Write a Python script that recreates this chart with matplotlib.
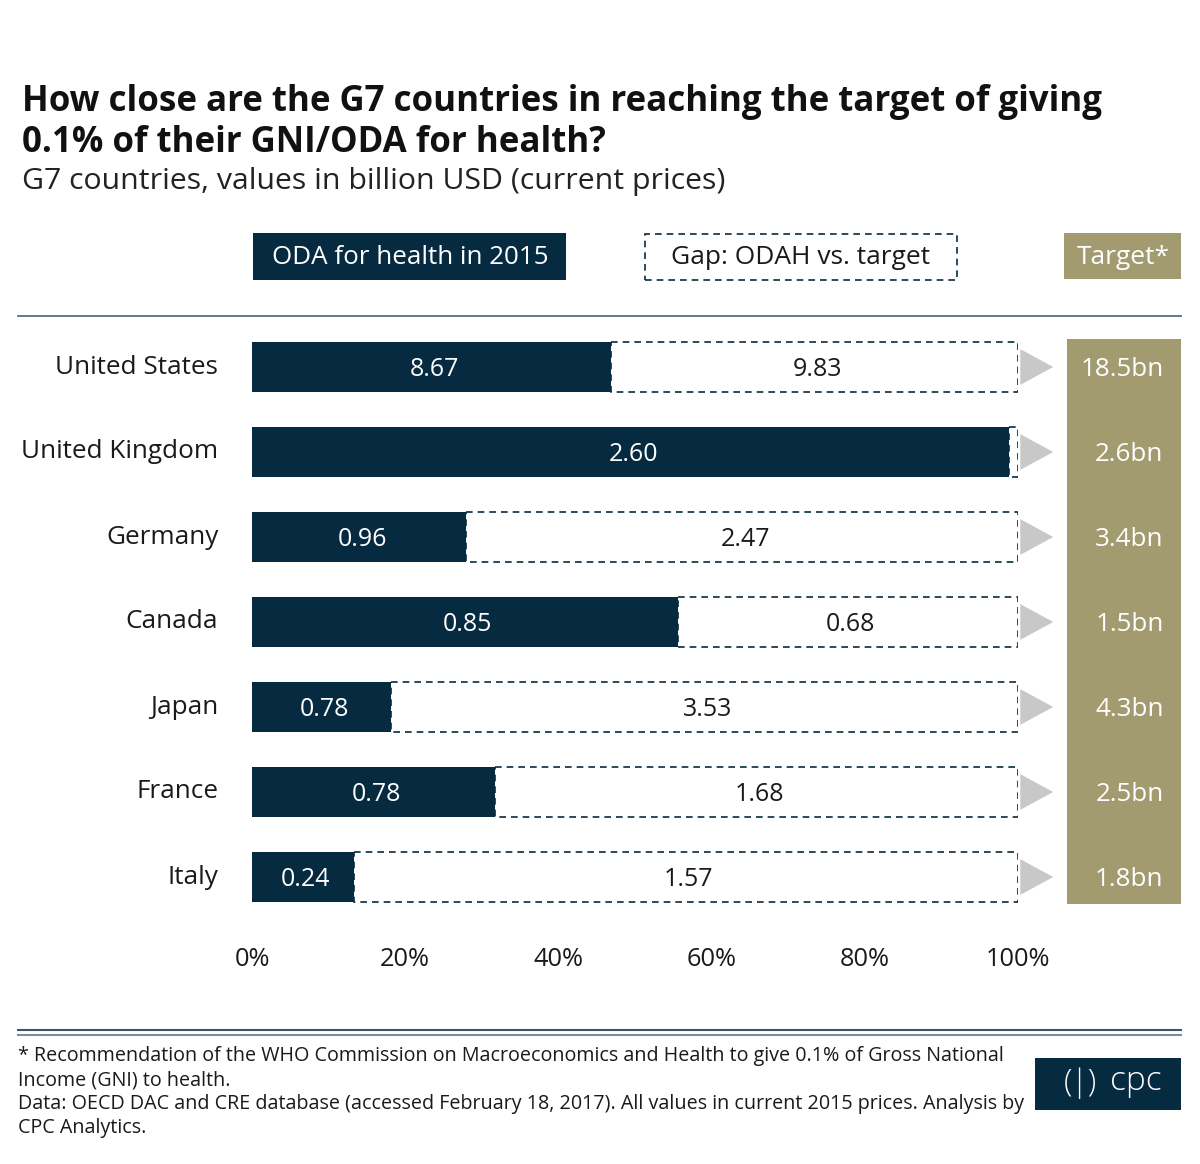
import matplotlib
matplotlib.use('Agg')
import matplotlib.pyplot as plt
from matplotlib.patches import Rectangle, Polygon

plt.rcParams['font.family'] = ['Open Sans', 'DejaVu Sans']

countries = ['United States', 'United Kingdom', 'Germany', 'Canada', 'Japan', 'France', 'Italy']
odah = [8.67, 2.60, 0.96, 0.85, 0.78, 0.78, 0.24]
gap = [9.83, 0.03, 2.47, 0.68, 3.53, 1.68, 1.57]
gap_labels = ['9.83', '', '2.47', '0.68', '3.53', '1.68', '1.57']
targets = ['18.5bn', '2.6bn', '3.4bn', '1.5bn', '4.3bn', '2.5bn', '1.8bn']
ticks = [0, 0.2, 0.4, 0.6, 0.8, 1.0]
tick_labels = ['0%', '20%', '40%', '60%', '80%', '100%']

NAVY = '#062b41'
OLIVE = '#a19b6f'
GREY = '#c8c8c8'
W, H = 1200, 1164

fig = plt.figure(figsize=(12, 11.64), dpi=100)

def fx(px):
    return px / W

def fy(py):
    return 1 - py / H

# main axes: x 252..1018 px, y 324.5..919.5 px
ax = fig.add_axes([fx(252), fy(919.5), fx(1018) - fx(252), (919.5 - 324.5) / H])
ax.set_xlim(0, 1)
ax.set_ylim(6.5, -0.5)
for s in ax.spines.values():
    s.set_visible(False)
ax.set_yticks([])
ax.set_xticks(ticks)
ax.set_xticklabels(tick_labels, fontsize=18.3, color='#1a1a1a')
ax.tick_params(axis='x', length=0, pad=20)

bh = 50 / 85
dy = 0.035  # small nudge so text sits on the bar centre
for i, c in enumerate(countries):
    total = odah[i] + gap[i]
    share = odah[i] / total
    ax.add_patch(Rectangle((0, i - bh / 2), share, bh, facecolor=NAVY, edgecolor='none'))
    ax.add_patch(Rectangle((share, i - bh / 2), 1 - share, bh, facecolor='none',
                           edgecolor=NAVY, linestyle=(0, (4, 3)), linewidth=1.2))
    ax.text(share / 2 + 0.004, i + dy, f'{odah[i]:.2f}', color='white', fontsize=18,
            ha='center', va='center')
    if gap_labels[i]:
        ax.text((share + 1) / 2 + 0.004, i + dy, gap_labels[i], color='#1a1a1a', fontsize=18,
                ha='center', va='center')
    ax.text(-0.044, i, c, ha='right', va='center', fontsize=18.8, color='#1a1a1a',
            clip_on=False)
    tri = Polygon([[1.003, i - 0.21], [1.003, i + 0.21], [1.046, i]], closed=True,
                  facecolor=GREY, edgecolor='none', clip_on=False)
    ax.add_patch(tri)
    ax.text(1.19, i + dy, targets[i], color='white', fontsize=18.7, ha='right',
            va='center', clip_on=False)

ax.add_patch(Rectangle((1.064, -0.33), 0.149, 6.65, facecolor=OLIVE, edgecolor='none',
                       clip_on=False, zorder=0))

# title block
fig.text(fx(22), fy(102), 'How close are the G7 countries in reaching the target of giving',
         fontsize=25.1, fontweight='bold', color='#111111', va='center')
fig.text(fx(22), fy(143), '0.1% of their GNI/ODA for health?',
         fontsize=25.1, fontweight='bold', color='#111111', va='center')
fig.text(fx(22), fy(182), 'G7 countries, values in billion USD (current prices)',
         fontsize=21.8, color='#222222', va='center')

# legend
fig.patches.append(Rectangle((fx(253), fy(280)), fx(566) - fx(253), 47 / H,
                             transform=fig.transFigure, facecolor=NAVY, edgecolor='none'))
fig.text(fx(410), fy(258), 'ODA for health in 2015', color='white', fontsize=18.7,
         ha='center', va='center')
fig.patches.append(Rectangle((fx(645), fy(280)), fx(957) - fx(645), 46 / H,
                             transform=fig.transFigure, facecolor='white', edgecolor=NAVY,
                             linestyle=(0, (4, 3)), linewidth=1.2))
fig.text(fx(801), fy(258), 'Gap: ODAH vs. target', color='#1a1a1a', fontsize=19,
         ha='center', va='center')
fig.patches.append(Rectangle((fx(1064), fy(279)), fx(1181) - fx(1064), 46 / H,
                             transform=fig.transFigure, facecolor=OLIVE, edgecolor='none'))
fig.text(fx(1123), fy(257), 'Target*', color='white', fontsize=19,
         ha='center', va='center')

# separator lines
fig.add_artist(plt.Line2D([fx(18), fx(1181)], [fy(316), fy(316)], color='#5a6f7f', lw=1.3))
fig.add_artist(plt.Line2D([fx(18), fx(1181)], [fy(1030), fy(1030)], color='#3d5566', lw=1.5))
fig.add_artist(plt.Line2D([fx(18), fx(1181)], [fy(1035), fy(1035)], color='#7d8f9c', lw=1.5))

# footer
foot = ('* Recommendation of the WHO Commission on Macroeconomics and Health to give 0.1% of Gross National\n'
        'Income (GNI) to health.\n'
        'Data: OECD DAC and CRE database (accessed February 18, 2017). All values in current 2015 prices. Analysis by\n'
        'CPC Analytics.')
fig.text(fx(18), fy(1046), foot, fontsize=14.2, color='#1a1a1a', va='top', ha='left',
         linespacing=1.27)

# logo
fig.patches.append(Rectangle((fx(1035), fy(1110)), fx(1181) - fx(1035), 52 / H,
                             transform=fig.transFigure, facecolor=NAVY, edgecolor='none'))
fig.text(fx(1080), fy(1083), '(|)', color='white', fontsize=22, ha='center', va='center',
         fontweight='light')
fig.text(fx(1136), fy(1081), 'cpc', color='white', fontsize=24, ha='center', va='center',
         fontweight='light')

fig.savefig('out.png', dpi=100, facecolor='white')
